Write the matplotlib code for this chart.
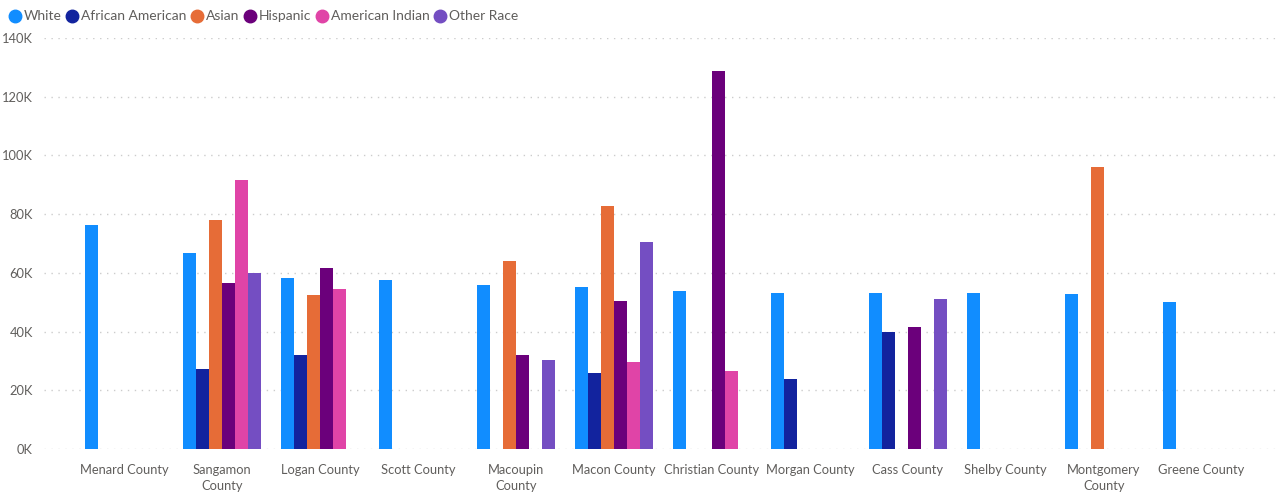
import numpy as np
import matplotlib
matplotlib.use("Agg")
import matplotlib.pyplot as plt
from matplotlib.lines import Line2D
from matplotlib.ticker import FuncFormatter

plt.rcParams['font.family'] = ['Lato', 'DejaVu Sans']

counties = ["Menard County", "Sangamon\nCounty", "Logan County", "Scott County",
            "Macoupin\nCounty", "Macon County", "Christian County", "Morgan County",
            "Cass County", "Shelby County", "Montgomery\nCounty", "Greene County"]

nan = np.nan
white = [76.3, 66.8, 58.2, 57.6, 55.9, 55.2, 53.8, 53.1, 53.1, 53.1, 52.8, 50.0]
african_american = [nan, 27.2, 32.0, nan, nan, 25.9, nan, 23.8, 39.9, nan, nan, nan]
asian = [nan, 78.0, 52.4, nan, 64.0, 82.8, nan, nan, nan, nan, 96.0, nan]
hispanic = [nan, 56.5, 61.6, nan, 32.0, 50.4, 128.7, nan, 41.6, nan, nan, nan]
american_indian = [nan, 91.6, 54.5, nan, nan, 29.6, 26.6, nan, nan, nan, nan, nan]
other_race = [nan, 60.0, nan, nan, 30.3, 70.5, nan, nan, 51.1, nan, nan, nan]

series = ["White", "African American", "Asian", "Hispanic", "American Indian", "Other Race"]
colors = ["#118DFF", "#12239E", "#E66C37", "#6B007B", "#E044A7", "#744EC2"]
values = [white, african_american, asian, hispanic, american_indian, other_race]

txt = "#605E5C"

fig = plt.figure(figsize=(12.8, 4.94), dpi=100)
ax = fig.add_axes([44 / 1280, 45 / 494, (1278 - 44) / 1280, (449 - 38) / 494])

x = np.arange(len(counties))
w = 0.133
for i, (vals, c) in enumerate(zip(values, colors)):
    ax.bar(x + (i - 2.5) * w, np.array(vals) * 1000, width=w, color=c,
           edgecolor="none", zorder=2)

ax.set_ylim(0, 140000)
ax.set_xlim(-0.82, 11.78)
ax.set_yticks(np.arange(0, 140001, 20000))
ax.yaxis.set_major_formatter(FuncFormatter(lambda v, p: f"{int(v / 1000)}K"))
ax.set_xticks(x)
ax.set_xticklabels(counties, linespacing=1.4)
ax.tick_params(axis='both', length=0, labelsize=9.3, colors=txt)
ax.tick_params(axis='x', pad=11)
ax.tick_params(axis='y', pad=8)
ax.grid(axis='y', color="#cccccc", linestyle=(0, (1, 4)), linewidth=1, zorder=0)
ax.set_axisbelow(True)
for s in ax.spines.values():
    s.set_visible(False)

handles = [Line2D([], [], marker='o', linestyle='none', markersize=9,
                  markerfacecolor=c, markeredgecolor=c) for c in colors]
fig.legend(handles, series, loc='upper left', bbox_to_anchor=(-0.002, 1.0), ncol=6,
           frameon=False, handlelength=1.0, handletextpad=0.15, columnspacing=0.25,
           fontsize=10, labelcolor=txt, borderaxespad=0.35)

fig.savefig("out.png", dpi=100)
